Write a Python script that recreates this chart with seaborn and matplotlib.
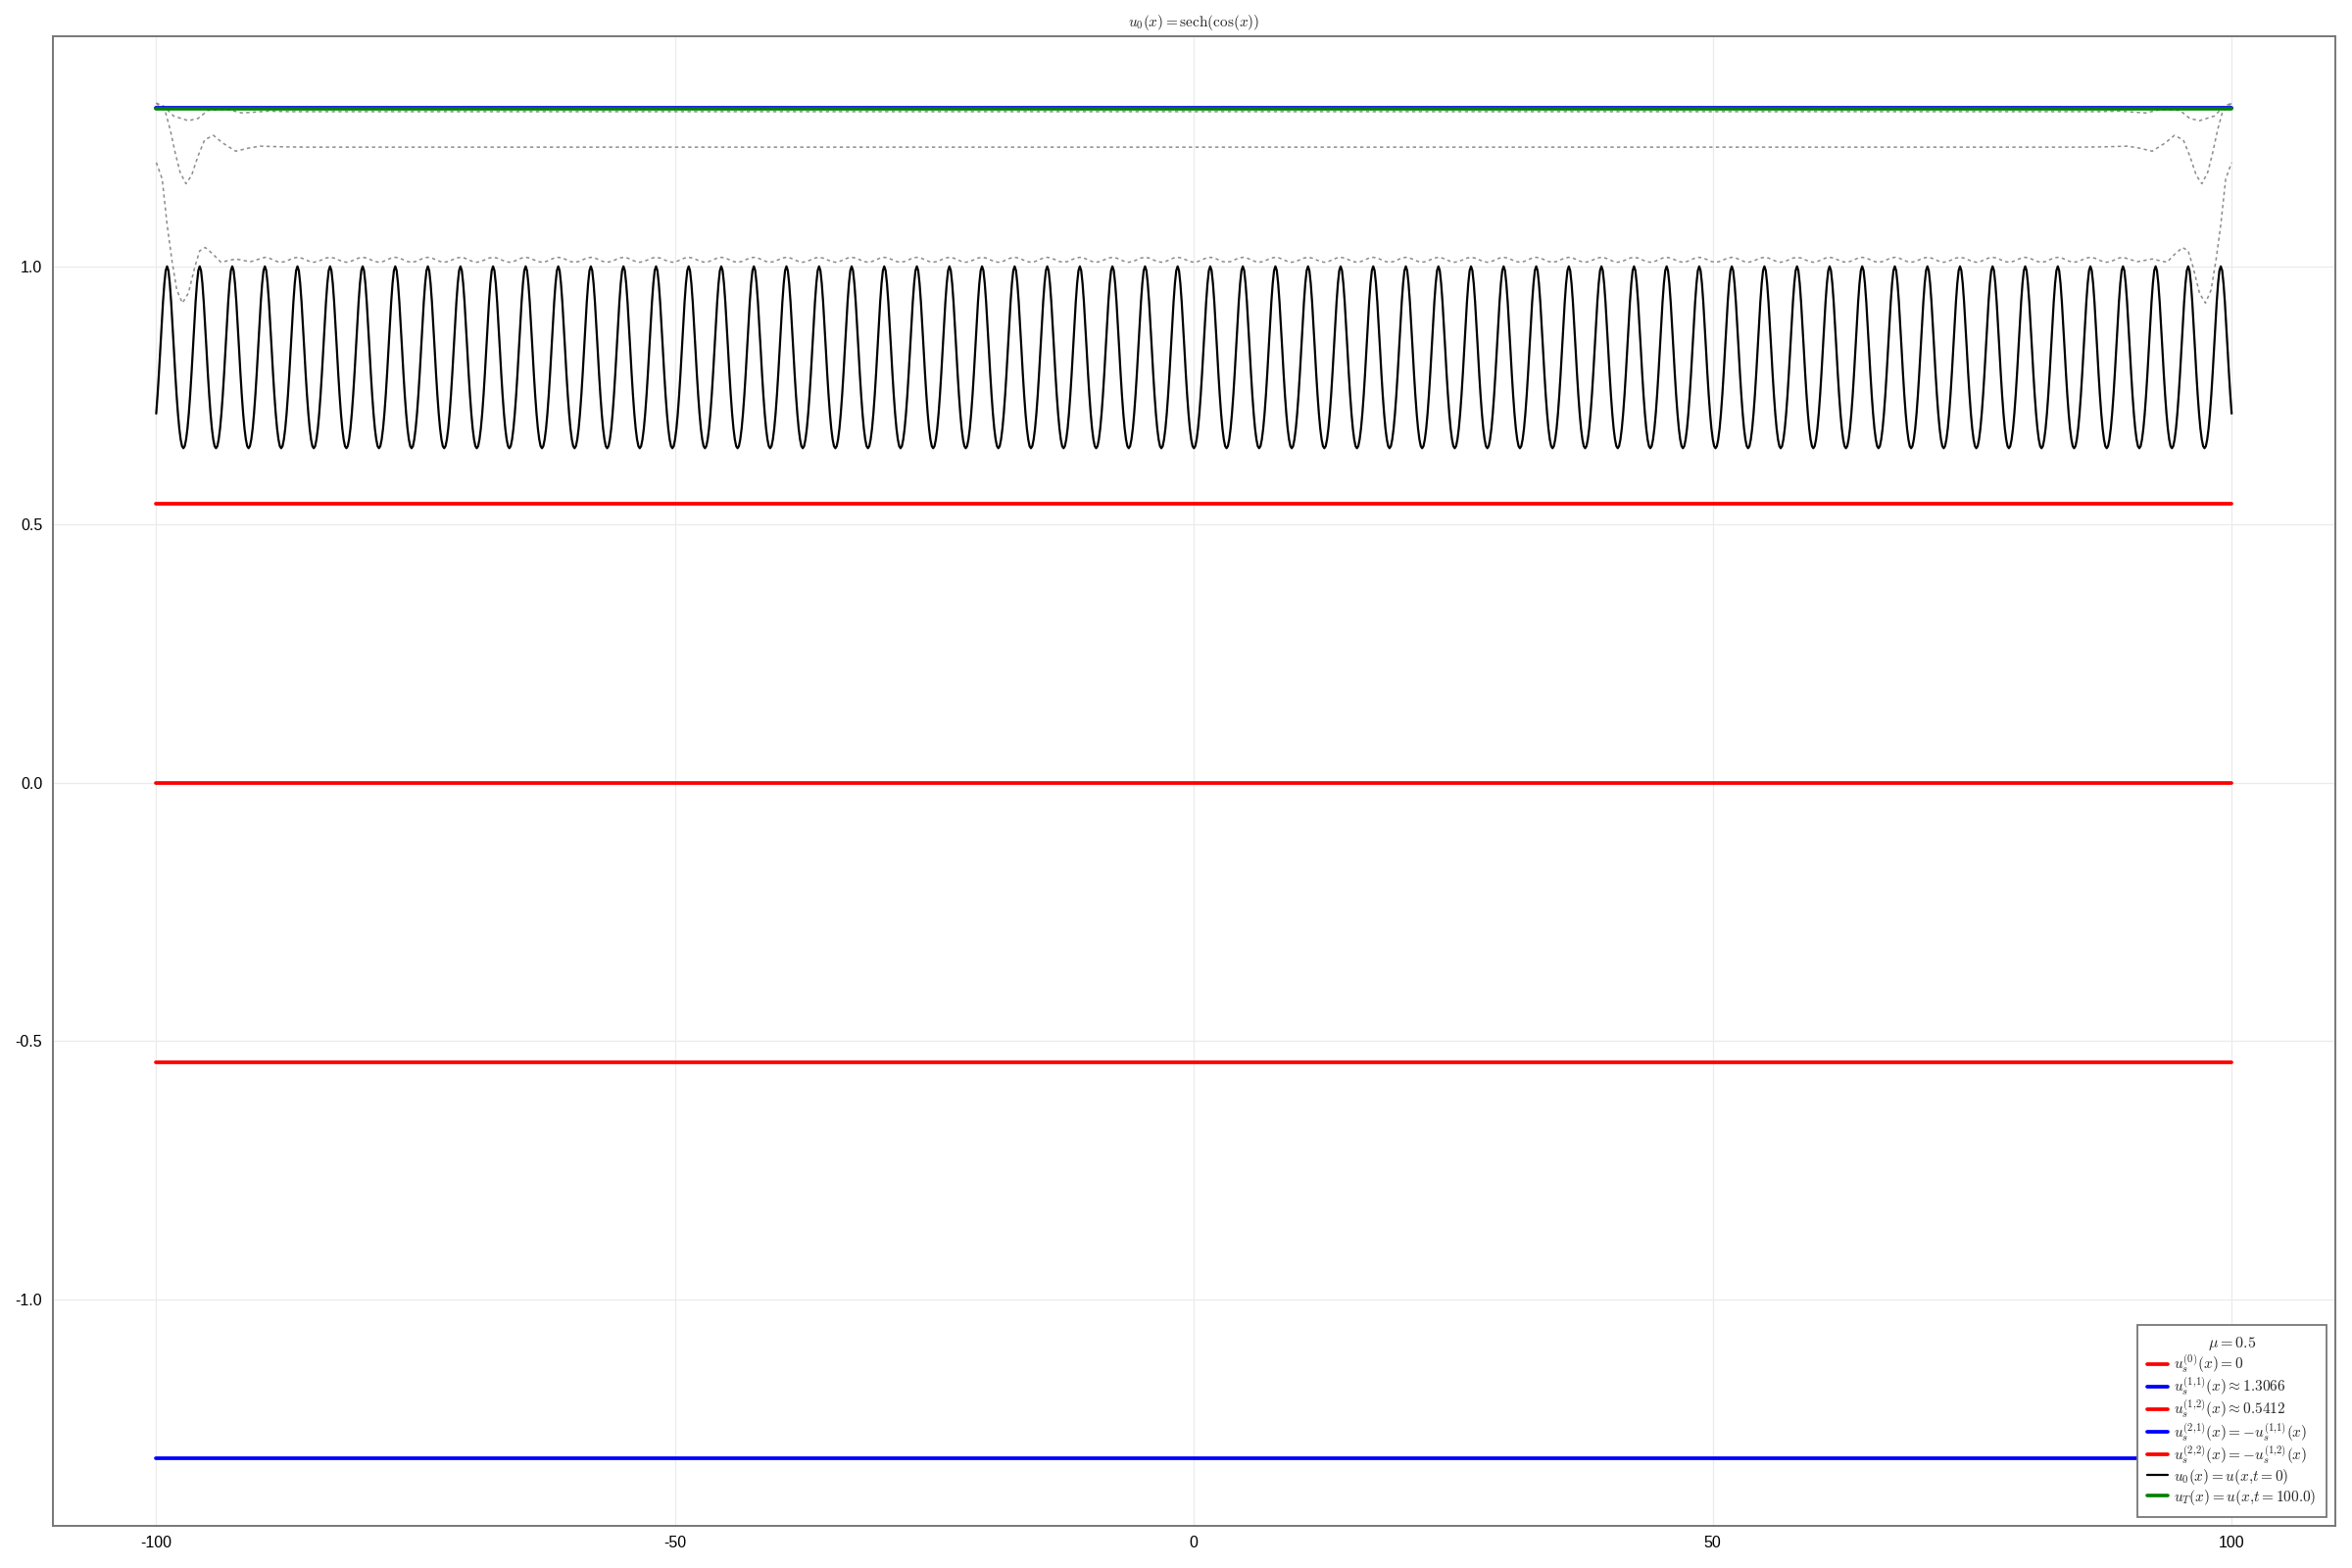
import numpy as np
import pandas as pd
import matplotlib
matplotlib.use("Agg")
import matplotlib.pyplot as plt
import seaborn as sns

# ---------------- data ----------------
x_span = [-100.0, 100.0]
mu_label = r"$\mu = 0.5$"

# steady states
us0_level = 0.0
us11_level = 1.3066
us12_level = 0.5412
us21_level = -1.3066
us22_level = -0.5412
uT_level = 1.3048

# u0(x): one period (pi) of the initial profile, 24 samples starting at cos(x)=1
u0_period = [0.648, 0.652, 0.665, 0.686, 0.715, 0.751, 0.793, 0.840,
             0.887, 0.931, 0.967, 0.992, 1.000, 0.992, 0.967, 0.931,
             0.887, 0.840, 0.793, 0.751, 0.715, 0.686, 0.665, 0.652]

# intermediate snapshots (gray dotted) - left edge knots, mirrored on the right
snapA_edge_x = [-100.0, -99.27, -98.33, -96.91, -95.97, -95.02, -93.14, -91.72, -89.21]
snapA_edge_y = [1.316, 1.310, 1.291, 1.282, 1.2864, 1.302, 1.3035, 1.297, 1.3005]
snapA_mid = 1.2995

snapB_edge_x = [-100.0, -99.12, -98.65, -98.18, -97.70, -97.14, -96.60, -95.97,
                -95.34, -94.49, -93.61, -92.35, -91.10, -89.99, -87.60]
snapB_edge_y = [1.316, 1.299, 1.264, 1.220, 1.182, 1.160, 1.176, 1.214,
                1.245, 1.2536, 1.239, 1.223, 1.229, 1.2327, 1.2313]
snapB_mid = 1.2308

snapC_edge_x = [-100.0, -99.43, -98.96, -98.49, -98.02, -97.48, -96.91, -96.29,
                -95.82, -95.28, -94.55, -93.77, -92.35, -90.93]
snapC_edge_y = [1.201, 1.169, 1.081, 1.011, 0.954, 0.929, 0.948, 0.9985,
                1.030, 1.0365, 1.024, 1.008, 1.0143, 1.009]
# small ripple of snapshot C in the interior, one period (pi), 8 samples from cos(x)=1
snapC_ripple = [1.008, 1.0094, 1.0128, 1.0161, 1.0175, 1.0161, 1.0128, 1.0094]

x_ticks = [-100, -50, 0, 50, 100]
y_ticks = [-1.0, -0.5, 0.0, 0.5, 1.0]
x_lim = [-110.0, 110.0]
y_lim = [-1.4376, 1.446]

# ---------------- build series ----------------
n_per = len(u0_period)
k_u0 = np.arange(int(round(x_span[0] * n_per / np.pi)), int(round(x_span[1] * n_per / np.pi)) + 1)
u0_x = k_u0 * np.pi / n_per
u0_y = np.array([u0_period[k % n_per] for k in k_u0])


def with_plateau(edge_x, edge_y, mid_x, mid_y):
    ex = np.array(edge_x)
    ey = np.array(edge_y)
    xs = np.concatenate([ex, np.asarray(mid_x, dtype=float), -ex[::-1]])
    ys = np.concatenate([ey, np.asarray(mid_y, dtype=float), ey[::-1]])
    return xs, ys


snapA_x, snapA_y = with_plateau(snapA_edge_x, snapA_edge_y,
                                [snapA_edge_x[-1] + 2, -snapA_edge_x[-1] - 2], [snapA_mid, snapA_mid])
snapB_x, snapB_y = with_plateau(snapB_edge_x, snapB_edge_y,
                                [snapB_edge_x[-1] + 2, -snapB_edge_x[-1] - 2], [snapB_mid, snapB_mid])

n_rip = len(snapC_ripple)
k_c = np.arange(-228, 229)  # interior ripple from -28.5*pi to 28.5*pi
ripple_x = k_c * np.pi / n_rip
ripple_y = np.array([snapC_ripple[k % n_rip] for k in k_c])
snapC_x, snapC_y = with_plateau(snapC_edge_x, snapC_edge_y, ripple_x, ripple_y)

# ---------------- plot ----------------
sns.set_style("white")
plt.rcParams["font.family"] = ["Liberation Sans", "DejaVu Sans"]
plt.rcParams["mathtext.fontset"] = "cm"
plt.rcParams["axes.unicode_minus"] = False

fig = plt.figure(figsize=(24, 16), dpi=100)
ax = fig.add_axes([0.02233, 0.02706, 0.97059, 0.95000])

gray = "#8c8c8c"
for sx, sy in [(snapA_x, snapA_y), (snapB_x, snapB_y), (snapC_x, snapC_y)]:
    sns.lineplot(x=sx, y=sy, ax=ax, color=gray, linewidth=1.1, linestyle=(0, (2.2, 2.2)),
                 estimator=None, sort=False, legend=False, zorder=2)

lw_s = 2.7
sns.lineplot(x=x_span, y=[us0_level] * 2, ax=ax, color="red", linewidth=lw_s, zorder=2.1,
             label=r"$u_s^{(0)}(x) = 0$", estimator=None, sort=False)
sns.lineplot(x=x_span, y=[us11_level] * 2, ax=ax, color="blue", linewidth=lw_s, zorder=2.1,
             label=r"$u_s^{(1{,}1)}(x) \approx 1.3066$", estimator=None, sort=False)
sns.lineplot(x=x_span, y=[us12_level] * 2, ax=ax, color="red", linewidth=lw_s, zorder=2.1,
             label=r"$u_s^{(1{,}2)}(x) \approx 0.5412$", estimator=None, sort=False)
sns.lineplot(x=x_span, y=[us21_level] * 2, ax=ax, color="blue", linewidth=lw_s, zorder=2.1,
             label=r"$u_s^{(2{,}1)}(x) = -u_s^{(1{,}1)}(x)$", estimator=None, sort=False)
sns.lineplot(x=x_span, y=[us22_level] * 2, ax=ax, color="red", linewidth=lw_s, zorder=2.1,
             label=r"$u_s^{(2{,}2)}(x) = -u_s^{(1{,}2)}(x)$", estimator=None, sort=False)
sns.lineplot(x=u0_x, y=u0_y, ax=ax, color="black", linewidth=1.6, zorder=2.2,
             label=r"$u_0(x) = u(x{,}t = 0)$", estimator=None, sort=False)
sns.lineplot(x=x_span, y=[uT_level] * 2, ax=ax, color="green", linewidth=2.6, zorder=3,
             label=r"$u_T(x) = u(x{,}t = 100.0)$", estimator=None, sort=False)

ax.set_xlim(x_lim)
ax.set_ylim(y_lim)
ax.set_xticks(x_ticks)
ax.set_xticklabels([str(v) for v in x_ticks])
ax.set_yticks(y_ticks)
ax.set_yticklabels([f"{v:.1f}" for v in y_ticks])
ax.set_xlabel("")
ax.set_ylabel("")

ax.grid(True, color="#ebebeb", linewidth=0.9)
ax.set_axisbelow(True)
for sp in ax.spines.values():
    sp.set_visible(True)
    sp.set_color("#777777")
    sp.set_linewidth(1.4)
ax.tick_params(axis="both", direction="out", length=4.5, width=1.0, color="#777777",
               labelsize=11.5, labelcolor="black", pad=3)

ax.set_title(r"$u_0(x) = \mathrm{sech}(\cos(x))$", fontsize=11, pad=7)

leg = ax.legend(loc="lower right", title=mu_label, fontsize=11, title_fontsize=11.5,
                frameon=True, fancybox=False, framealpha=1.0, edgecolor="#777777",
                handlelength=1.4, handletextpad=0.4, borderaxespad=0.6, labelspacing=0.06,
                borderpad=0.65)
leg.get_frame().set_linewidth(1.3)
leg.set_zorder(5)

fig.savefig("out.png", dpi=100)
